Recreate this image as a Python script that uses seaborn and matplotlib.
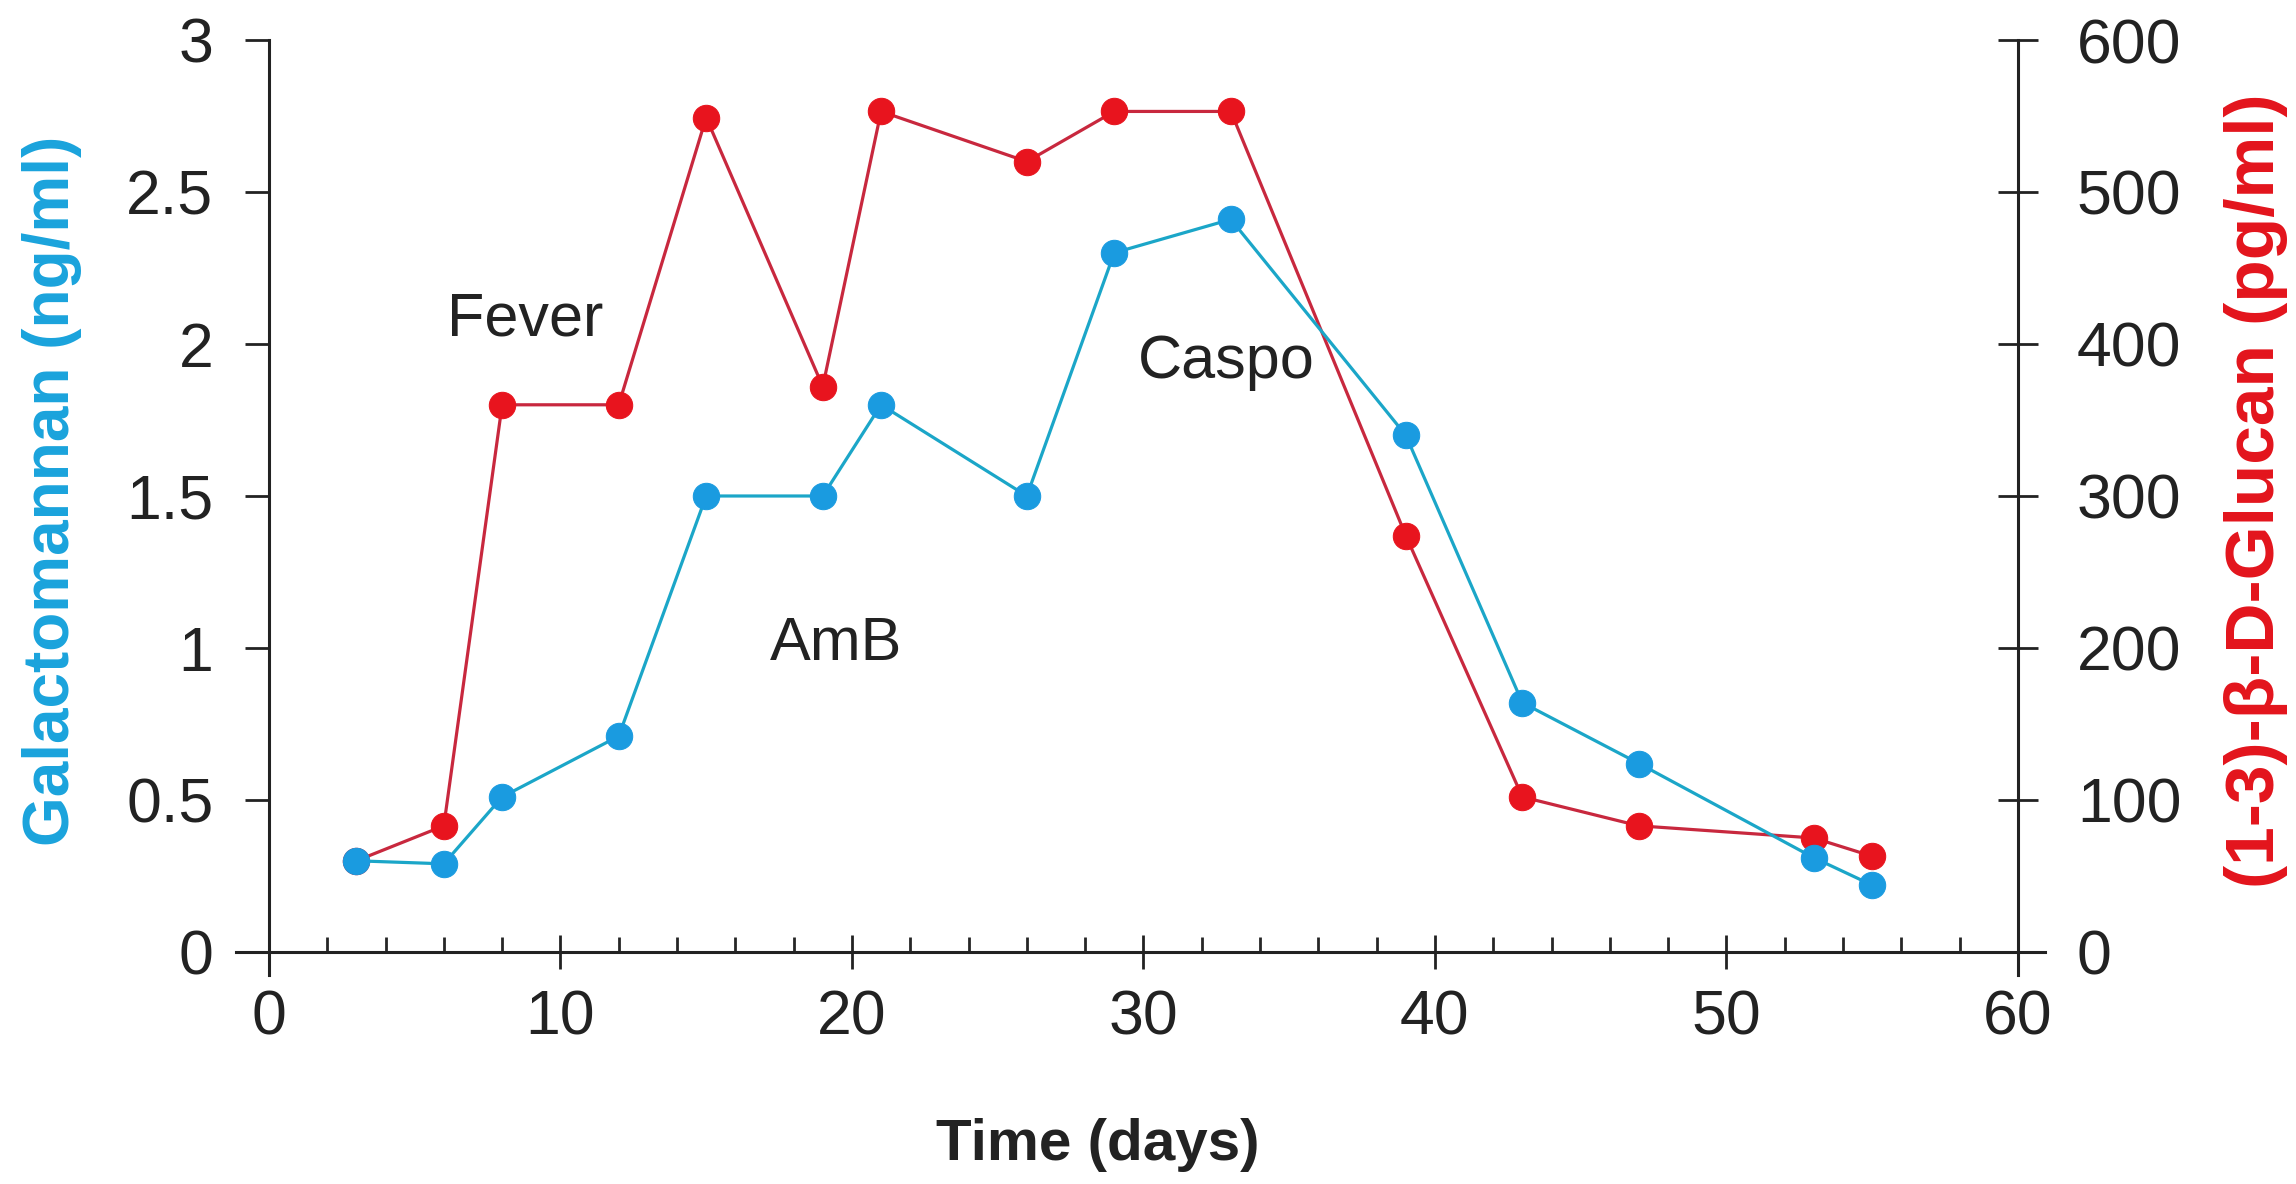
import matplotlib
matplotlib.use("Agg")
import matplotlib.pyplot as plt
import pandas as pd
import seaborn as sns
from matplotlib.ticker import MultipleLocator

# --- data ---
days = [3, 6, 8, 12, 15, 19, 21, 26, 29, 33, 39, 43, 47, 53, 55]
galactomannan = [0.30, 0.29, 0.51, 0.71, 1.50, 1.50, 1.80, 1.50, 2.30, 2.41,
                 1.70, 0.82, 0.62, 0.31, 0.22]
glucan = [60, 83, 360, 360, 549, 372, 553, 520, 553, 553,
          274, 102, 83, 75, 63]

notes = ["Fever", "AmB", "Caspo"]
note_x = [6.1, 17.2, 29.8]
note_y = [2.08, 1.01, 1.94]

BLUE_LINE, BLUE_DOT = "#1ba6c8", "#1a9be0"
RED_LINE, RED_DOT = "#c8283e", "#e8141e"
INK = "#222222"

sns.set_style("white")
plt.rcParams["font.family"] = ["Liberation Sans", "DejaVu Sans"]

df = pd.DataFrame({"day": days, "gm": galactomannan, "bg": glucan})

# axes box in figure pixels (2296 x 1184): x 236..2045, y 40..975
fig = plt.figure(figsize=(22.96, 11.84), dpi=100)
ax = fig.add_axes([236 / 2296, 1 - 975 / 1184, 1809 / 2296, 935 / 1184])
ax2 = ax.twinx()

sns.lineplot(data=df, x="day", y="bg", ax=ax2, color=RED_LINE, linewidth=2.3,
             marker="o", markersize=19, markerfacecolor=RED_DOT,
             markeredgecolor=RED_DOT)
sns.lineplot(data=df, x="day", y="gm", ax=ax, color=BLUE_LINE, linewidth=2.3,
             marker="o", markersize=19, markerfacecolor=BLUE_DOT,
             markeredgecolor=BLUE_DOT)

# galactomannan series sits on top of the glucan one
ax.set_zorder(ax2.get_zorder() + 1)
ax.patch.set_visible(False)

ax.set_xlim(-1.13, 60.93)
ax.set_ylim(-0.0757, 3)
ax2.set_ylim(-15.14, 600)

for s in ["top", "right"]:
    ax.spines[s].set_visible(False)
for s in ["top", "left", "bottom"]:
    ax2.spines[s].set_visible(False)
ax.spines["left"].set_position(("data", 0))
ax.spines["bottom"].set_position(("data", 0))
ax2.spines["right"].set_position(("data", 60))
for sp in [ax.spines["left"], ax.spines["bottom"], ax2.spines["right"]]:
    sp.set_linewidth(2.2)
    sp.set_color(INK)

ax.xaxis.set_major_locator(MultipleLocator(10))
ax.xaxis.set_minor_locator(MultipleLocator(2))
ax2.yaxis.set_major_locator(MultipleLocator(100))
ax.set_yticks([0, 0.5, 1, 1.5, 2, 2.5, 3])
ax.set_yticklabels(["0", "0.5", "1", "1.5", "2", "2.5", "3"])

ax.tick_params(axis="x", which="major", direction="inout", length=24, width=2,
               pad=14, labelsize=45, colors=INK, bottom=True)
ax.tick_params(axis="x", which="minor", direction="in", length=11, width=2,
               bottom=True)
ax.tick_params(axis="y", direction="out", length=17, width=2, pad=23,
               labelsize=45, colors=INK, left=True)
ax2.tick_params(axis="y", direction="inout", length=29, width=2, pad=28,
                labelsize=45, colors=INK, right=True)

ax.set_xlabel("Time (days)", fontsize=42, fontweight="bold", color=INK)
ax.set_ylabel("Galactomannan (ng/ml)", fontsize=46, fontweight="bold",
              color="#1aa3dc")
ax2.set_ylabel("(1-3)-β-D-Glucan (pg/ml)", fontsize=50, fontweight="bold",
               color="#e3141c")

# label coords are axes fractions of the (extended) axes box
ax.yaxis.set_label_coords((82 - 236) / 1809, (975 - 491) / 935)
ax2.yaxis.set_label_coords((2224 - 236) / 1809, (975 - 491) / 935)
ax.xaxis.set_label_coords((1098 - 236) / 1809, (975 - 1118) / 935)

for txt, x, y in zip(notes, note_x, note_y):
    ax.text(x, y, txt, fontsize=44, color=INK, ha="left", va="center")

fig.savefig("out.png", dpi=100)
